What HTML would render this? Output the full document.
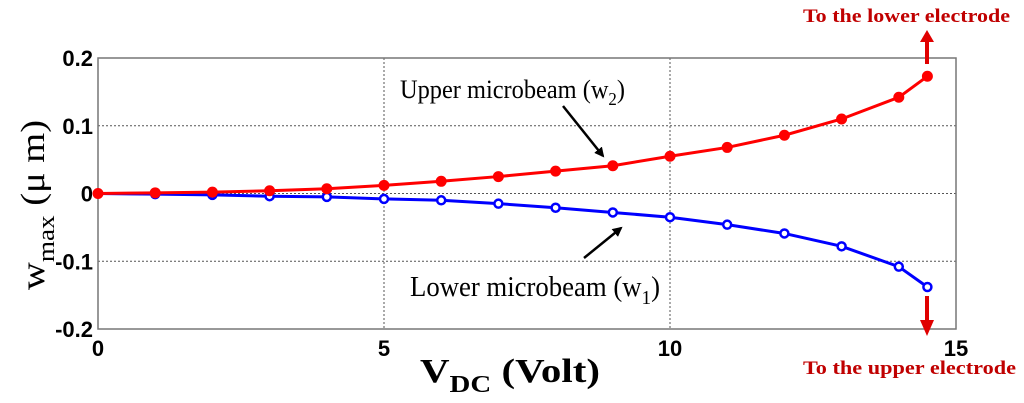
<!DOCTYPE html>
<html><head><meta charset="utf-8"><style>
body{margin:0;background:#fff;width:1024px;height:403px;overflow:hidden}
svg{display:block}
</style></head><body>
<svg id="chart" width="1024" height="403" xmlns="http://www.w3.org/2000/svg">
<defs>
<marker id="ah" markerWidth="10" markerHeight="10" refX="8" refY="5" orient="auto" markerUnits="userSpaceOnUse"><path d="M0,0 L10,5 L0,10 z" fill="#000"/></marker>
</defs>
<g id="grid"></g>
<g id="axes"></g>
<g id="series"></g>
<g font-family="Liberation Serif, serif">
<text x="400" y="98" font-size="26" textLength="225" lengthAdjust="spacingAndGlyphs">Upper microbeam (w<tspan font-size="18" dy="7">2</tspan><tspan dy="-7">)</tspan></text>
<line x1="563" y1="106" x2="603" y2="156" stroke="#000" stroke-width="2.5" marker-end="url(#ah)"/>
<text x="410" y="296" font-size="28" textLength="250" lengthAdjust="spacingAndGlyphs">Lower microbeam (w<tspan font-size="20" dy="8">1</tspan><tspan dy="-8">)</tspan></text>
<line x1="584" y1="258" x2="621" y2="228" stroke="#000" stroke-width="2.5" marker-end="url(#ah)"/>
<text x="803" y="22" font-size="19" font-weight="bold" fill="#c00000" textLength="207" lengthAdjust="spacingAndGlyphs">To the lower electrode</text>
<text x="803" y="374" font-size="19" font-weight="bold" fill="#c00000" textLength="213" lengthAdjust="spacingAndGlyphs">To the upper electrode</text>
<path d="M925,64 L925,42 L920,42 L927,30 L934,42 L929,42 L929,64 z" fill="#e00000"/>
<path d="M925,296 L925,320 L920,320 L927,336 L934,320 L929,320 L929,296 z" fill="#e00000"/>
</g>
<g font-family="Liberation Serif, serif">
<text x="420" y="382" font-size="34" font-weight="bold" textLength="180" lengthAdjust="spacingAndGlyphs">V<tspan font-size="24" dy="10">DC</tspan><tspan dy="-10"> (Volt)</tspan></text>
<text transform="translate(44,205) rotate(-90)" text-anchor="middle" font-size="34" textLength="170" lengthAdjust="spacingAndGlyphs">w<tspan font-size="24" dy="10">max</tspan><tspan dy="-10"> (μ m)</tspan></text>
</g>
</svg>
<script>
const xTicks=[0,5,10,15];
const yTicks=[-0.2,-0.1,0,0.1,0.2];
const yTickLabels=["-0.2","-0.1","0","0.1","0.2"];
const voltage=[0,1,2,3,4,5,6,7,8,9,10,11,12,13,14,14.5];
const upperW2=[0,0.001,0.002,0.004,0.007,0.012,0.018,0.025,0.033,0.041,0.055,0.068,0.086,0.110,0.142,0.173];
const lowerW1=[0,-0.001,-0.002,-0.004,-0.005,-0.008,-0.010,-0.015,-0.021,-0.028,-0.035,-0.046,-0.059,-0.078,-0.108,-0.138];
const L=98,R=956,T=58,B=329;
const X=v=>L+(v-0)/(15-0)*(R-L);
const Y=v=>B-(v+0.2)/0.4*(B-T);
const NS="http://www.w3.org/2000/svg";
function mk(p,t,a){const e=document.createElementNS(NS,t);for(const k in a)e.setAttribute(k,a[k]);p.appendChild(e);return e;}
const grid=document.getElementById('grid'),axes=document.getElementById('axes'),ser=document.getElementById('series');
xTicks.forEach(t=>{if(t>0&&t<15){const l=mk(grid,'line',{x1:X(t),x2:X(t),y1:T,y2:B,stroke:'#555','stroke-dasharray':'2,2','stroke-width':1});

}
const tx=mk(axes,'text',{x:X(t),y:B+27,'text-anchor':'middle','font-family':'Liberation Sans, sans-serif','font-weight':'bold','font-size':22});tx.textContent=t;

});
yTicks.forEach((t,i)=>{if(i>0&&i<yTicks.length-1){const l=mk(grid,'line',{x1:L,x2:R,y1:Y(t),y2:Y(t),stroke:'#555','stroke-dasharray':'2,2','stroke-width':1});

}
const tx=mk(axes,'text',{x:L-5,y:Y(t)+8,'text-anchor':'end','font-family':'Liberation Sans, sans-serif','font-weight':'bold','font-size':22});tx.textContent=yTickLabels[i];

});
const fr=mk(axes,'rect',{x:L,y:T,width:R-L,height:B-T,fill:'none',stroke:'#777','stroke-width':1.5});


function draw(vals,color,filled,name){
 const pl=mk(ser,'polyline',{points:voltage.map((v,i)=>X(v)+','+Y(vals[i])).join(' '),fill:'none',stroke:color,'stroke-width':3});
 
 
 voltage.forEach((v,i)=>{const c=mk(ser,'circle',{cx:X(v),cy:Y(vals[i]),r:filled?5:4,fill:filled?color:'#fff',stroke:color,'stroke-width':filled?1:2.5});
 
 });
}
draw(lowerW1,'#0000ff',false,'lower-microbeam');
draw(upperW2,'#ff0000',true,'upper-microbeam');
</script>
</body></html>
